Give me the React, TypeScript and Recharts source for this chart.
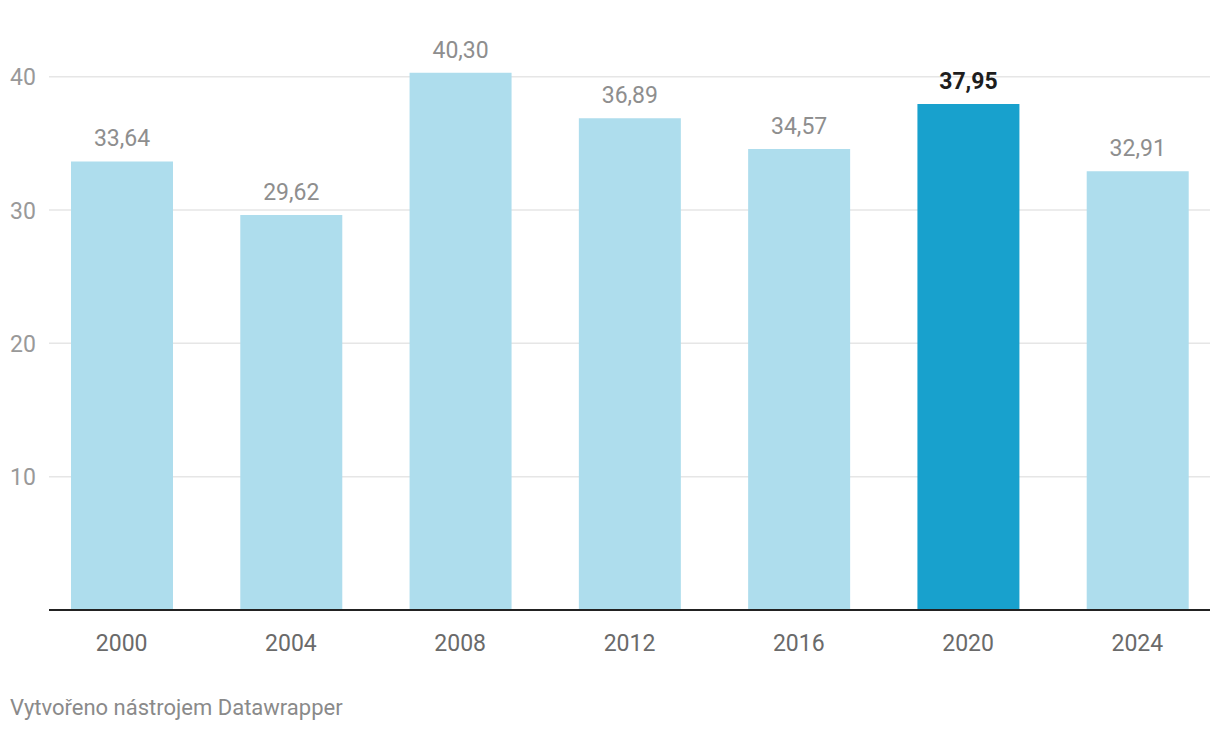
import React from "react";
import { BarChart, Bar, XAxis, YAxis, CartesianGrid, LabelList, Cell } from "recharts";

const years = ["2000", "2004", "2008", "2012", "2016", "2020", "2024"];
const values = [33.64, 29.62, 40.3, 36.89, 34.57, 37.95, 32.91];
const highlightYear = "2020";
const yTicks = [10, 20, 30, 40];

const FONT = "Roboto, 'Noto Sans', sans-serif";

const fmt = (v: number) => v.toFixed(2).replace(".", ",");

const YTick = (props: any) => {
  const { y, payload } = props;
  return (
    <text x={10} y={y} dy={8.5} fill="#999999" fontSize={23} fontFamily={FONT} textAnchor="start">
      {payload.value}
    </text>
  );
};

const XTick = (props: any) => {
  const { x, y, payload } = props;
  return (
    <text x={x} y={y} dy={33} fill="#6a6a6a" fontSize={23} fontFamily={FONT} textAnchor="middle">
      {payload.value}
    </text>
  );
};

const ValueLabel = (props: any) => {
  const { x, y, width, value, index } = props;
  const hot = years[index] === highlightYear;
  return (
    <text
      x={x + width / 2}
      y={y - 15}
      textAnchor="middle"
      fontSize={23}
      fontFamily={FONT}
      fontWeight={hot ? 700 : 400}
      fill={hot ? "#1d1d1d" : "#8e8e8e"}
    >
      {fmt(value)}
    </text>
  );
};

const App: React.FC = () => {
  const data = years.map((year, i) => ({ year, value: values[i] }));

  return (
    <div style={{ position: "absolute", left: 0, top: 0, width: 1220, height: 732, background: "#fff" }}>
      <BarChart
        width={1220}
        height={680}
        data={data}
        margin={{ top: 10, right: 10, left: 0, bottom: 0 }}
      >
        <CartesianGrid
          vertical={false}
          stroke="#e6e6e6"
          strokeWidth={1.5}
          horizontalValues={yTicks}
        />
        <XAxis
          dataKey="year"
          tickLine={false}
          axisLine={{ stroke: "#222222", strokeWidth: 2 }}
          tick={<XTick />}
          height={70}
          padding={{ left: -12, right: -12 }}
          interval={0}
        />
        <YAxis
          domain={[0, 45]}
          ticks={yTicks}
          width={49}
          axisLine={false}
          tickLine={false}
          tick={<YTick />}
        />
        <Bar dataKey="value" barSize={102} isAnimationActive={false}>
          {data.map((d) => (
            <Cell key={d.year} fill={d.year === highlightYear ? "#18a1cd" : "#aedded"} />
          ))}
          <LabelList dataKey="value" content={<ValueLabel />} />
        </Bar>
      </BarChart>
      <div
        style={{
          position: "absolute",
          left: 10,
          top: 694,
          fontFamily: FONT,
          fontSize: 22,
          color: "#8a8a8a",
          lineHeight: "28px",
        }}
      >
        Vytvořeno nástrojem Datawrapper
      </div>
    </div>
  );
};

export default App;
